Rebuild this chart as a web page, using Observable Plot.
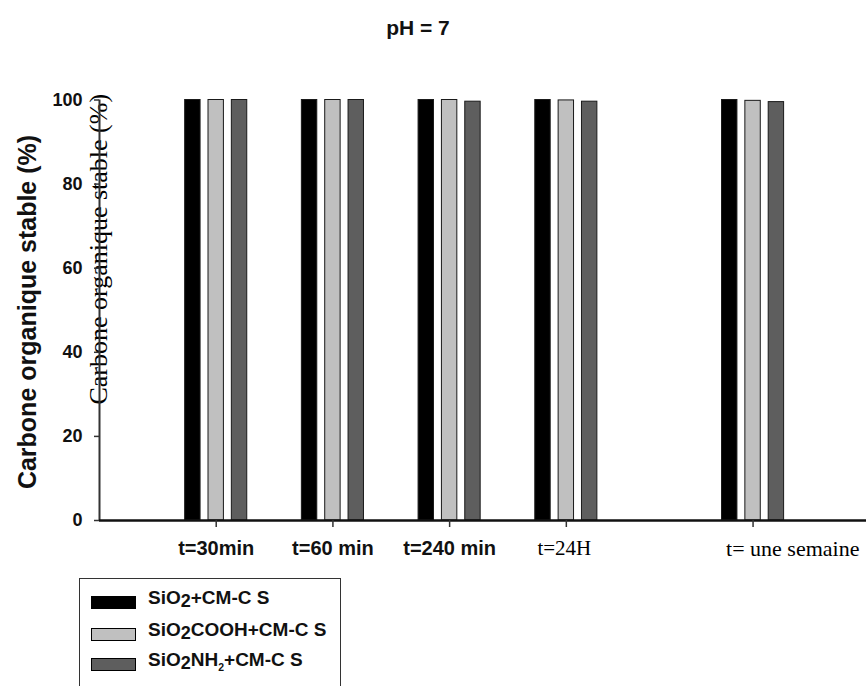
<!DOCTYPE html>
<html><head><meta charset="utf-8">
<script src="https://cdn.jsdelivr.net/npm/d3@7"></script>
<script src="https://cdn.jsdelivr.net/npm/@observablehq/plot@0.6"></script>
<style>
body{margin:0;background:#fff;font-family:"Liberation Sans",Arial,sans-serif;}
#wrap{position:relative;width:866px;height:686px;overflow:hidden;background:#fff;}
#title{position:absolute;left:0;top:17px;width:836px;text-align:center;font-weight:bold;font-size:21px;line-height:1;color:#111;}
#chart{position:absolute;left:0;top:60px;}
#legend{position:absolute;left:79px;top:578px;width:262px;height:130px;border:1.5px solid #333;box-sizing:border-box;}
.row{position:absolute;left:11px;height:20px;display:flex;align-items:center;white-space:nowrap;}
.sw{width:43px;height:11px;border:1px solid #000;margin-right:12px;}
.lab{font-size:19px;font-weight:bold;color:#111;position:relative;top:-4px;}
.s1{font-size:0.95em;position:relative;top:3px;}
.s2{font-size:0.55em;position:relative;top:5px;}
</style></head>
<body>
<div id="wrap">
  <div id="title"></div>
  <div id="chart"></div>
  <div id="legend"></div>
</div>
<script>
const chartTitle = "pH = 7";
const yLabel = "Carbone organique stable (%)";
const categories = ["t=30min", "t=60 min", "t=240 min", "t=24H", "t= une semaine"];
const categoryPos = [1, 2, 3, 4, 5.6];
const seriesNames = ["SiO2+CM-CS", "SiO2COOH+CM-CS", "SiO2NH2+CM-CS"];
const legendLabels = [
  'SiO<span class="s1">2</span>+CM-C S',
  'SiO<span class="s1">2</span>COOH+CM-C S',
  'SiO<span class="s1">2</span>NH<span class="s2">2</span>+CM-C S'
];
const seriesColors = ["#000000", "#c0c0c0", "#5e5e5e"];
const sio2CMCS     = [100, 100, 100, 100, 100];
const sio2coohCMCS = [100, 100, 100, 99.9, 99.8];
const sio2nh2CMCS  = [100, 100, 99.6, 99.6, 99.5];
const yTicks = [0, 20, 40, 60, 80, 100];

const seriesValues = [sio2CMCS, sio2coohCMCS, sio2nh2CMCS];
const table = [];
seriesNames.forEach((s, si) => {
  categories.forEach((c, ci) => {
    table.push({cat: c, pos: categoryPos[ci], series: s, si, value: seriesValues[si][ci]});
  });
});
const labelData = categories.map((c, i) => ({c, pos: categoryPos[i], i}));

const barOffset = 0.2, barHalf = 0.066;
const serif = "'Liberation Serif','Times New Roman',serif";

document.getElementById("title").textContent = chartTitle;

const plot = Plot.plot({
  width: 866,
  height: 510,
  marginLeft: 99,
  marginRight: 0,
  marginTop: 39.5,
  marginBottom: 50,
  style: {fontFamily: "'Liberation Sans',Arial,sans-serif", background: "#fff", color: "#111", overflow: "visible"},
  x: {domain: [0, 6.572], axis: null},
  y: {domain: [0, 100], axis: null},
  color: {domain: seriesNames, range: seriesColors},
  marks: [
    Plot.text([yLabel], {text: d => d, frameAnchor: "left", textAnchor: "middle", rotate: -90, dx: -1.3, dy: -61, fontSize: 26, fontFamily: serif, fill: "#000", lineAnchor: "middle"}),
    Plot.text([yLabel], {text: d => d, frameAnchor: "left", textAnchor: "middle", rotate: -90, dx: -72, dy: 1.75, fontSize: 25, fontWeight: "bold", fill: "#111", lineAnchor: "middle"}),
    Plot.rectY(table, {
      x1: d => d.pos + (d.si - 1) * barOffset - barHalf,
      x2: d => d.pos + (d.si - 1) * barOffset + barHalf,
      y1: 0,
      y2: "value",
      fill: "series",
      stroke: "#1a1a1a",
      strokeWidth: 1
    }),
    Plot.ruleX([0], {stroke: "#333", strokeWidth: 2}),
    Plot.ruleY([0], {stroke: "#111", strokeWidth: 2.5}),
    Plot.axisY({ticks: yTicks, tickSize: 5, tickPadding: 12, fontSize: 18, fontWeight: "bold", label: null, stroke: "#333", strokeWidth: 1.5}),
    Plot.axisX({ticks: categoryPos, tickSize: 7, tickFormat: () => "", label: null, stroke: "#333", strokeWidth: 1.5}),
    Plot.text(labelData.filter(d => d.i < 3), {x: "pos", text: "c", frameAnchor: "bottom", dy: 28, fontSize: 20, fontWeight: "bold", fill: "#111", lineAnchor: "middle"}),
    Plot.text(labelData.filter(d => d.i === 3), {x: "pos", text: "c", frameAnchor: "bottom", dy: 28, dx: -2, fontSize: 21, fontFamily: serif, fill: "#000", lineAnchor: "middle"}),
    Plot.text(labelData.filter(d => d.i === 4), {x: "pos", text: "c", frameAnchor: "bottom", dy: 28, dx: -27, fontSize: 22, fontFamily: serif, fill: "#000", lineAnchor: "middle", textAnchor: "start"})
  ]
});
document.getElementById("chart").appendChild(plot);

const legend = document.getElementById("legend");
const rowTops = [13, 45, 75];
seriesNames.forEach((s, i) => {
  const row = document.createElement("div");
  row.className = "row";
  row.style.top = rowTops[i] + "px";
  row.innerHTML = `<div class="sw" style="background:${seriesColors[i]}"></div><span class="lab">${legendLabels[i]}</span>`;
  legend.appendChild(row);
});
</script>
</body></html>
